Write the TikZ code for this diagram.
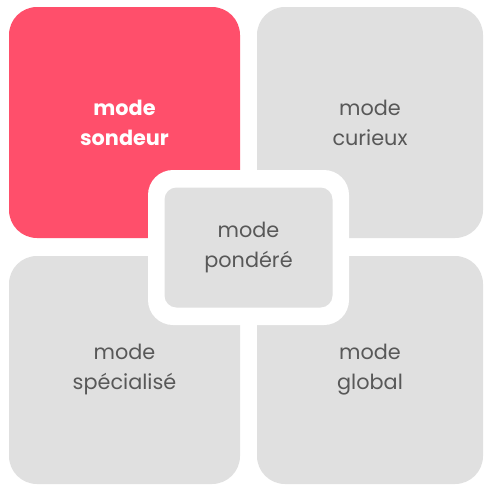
\documentclass[tikz,border=0pt]{standalone}
\usepackage{fontspec}
\setmainfont{Poppins}
\definecolor{redq}{HTML}{FF4F6B}
\definecolor{grayq}{HTML}{E0E0E0}
\definecolor{txtq}{HTML}{585858}
\begin{document}
\begin{tikzpicture}[x=1pt,y=-1pt,
  quad/.style={fill=grayq, rounded corners=28pt, inner sep=0pt, align=center,
    text=txtq, font=\fontsize{20.8}{30}\selectfont},
  hot/.style={quad, fill=redq, text=white, font=\fontsize{20.8}{30}\selectfont\bfseries}]
\useasboundingbox[fill=white] (0,0) rectangle (484,485);
\node[hot, minimum width=231pt, minimum height=231pt] (sondeur) at (124.5,122.5) {mode\\sondeur};
\node[quad, minimum width=226pt, minimum height=231pt] (curieux) at (370,122.5) {mode\\curieux};
\node[quad, minimum width=231pt, minimum height=228pt] (specialise) at (124.5,370) {mode\\spécialisé};
\node[quad, minimum width=226pt, minimum height=228pt] (global) at (370,370) {mode\\global};
\node[fill=white, rounded corners=25pt, minimum width=201pt, minimum height=155pt, inner sep=0pt] (ring) at (248.5,247.5) {};
\node[quad, rounded corners=12pt, minimum width=168pt, minimum height=120pt] (pondere) at (ring.center) {mode\\pondéré};
\end{tikzpicture}
\end{document}
